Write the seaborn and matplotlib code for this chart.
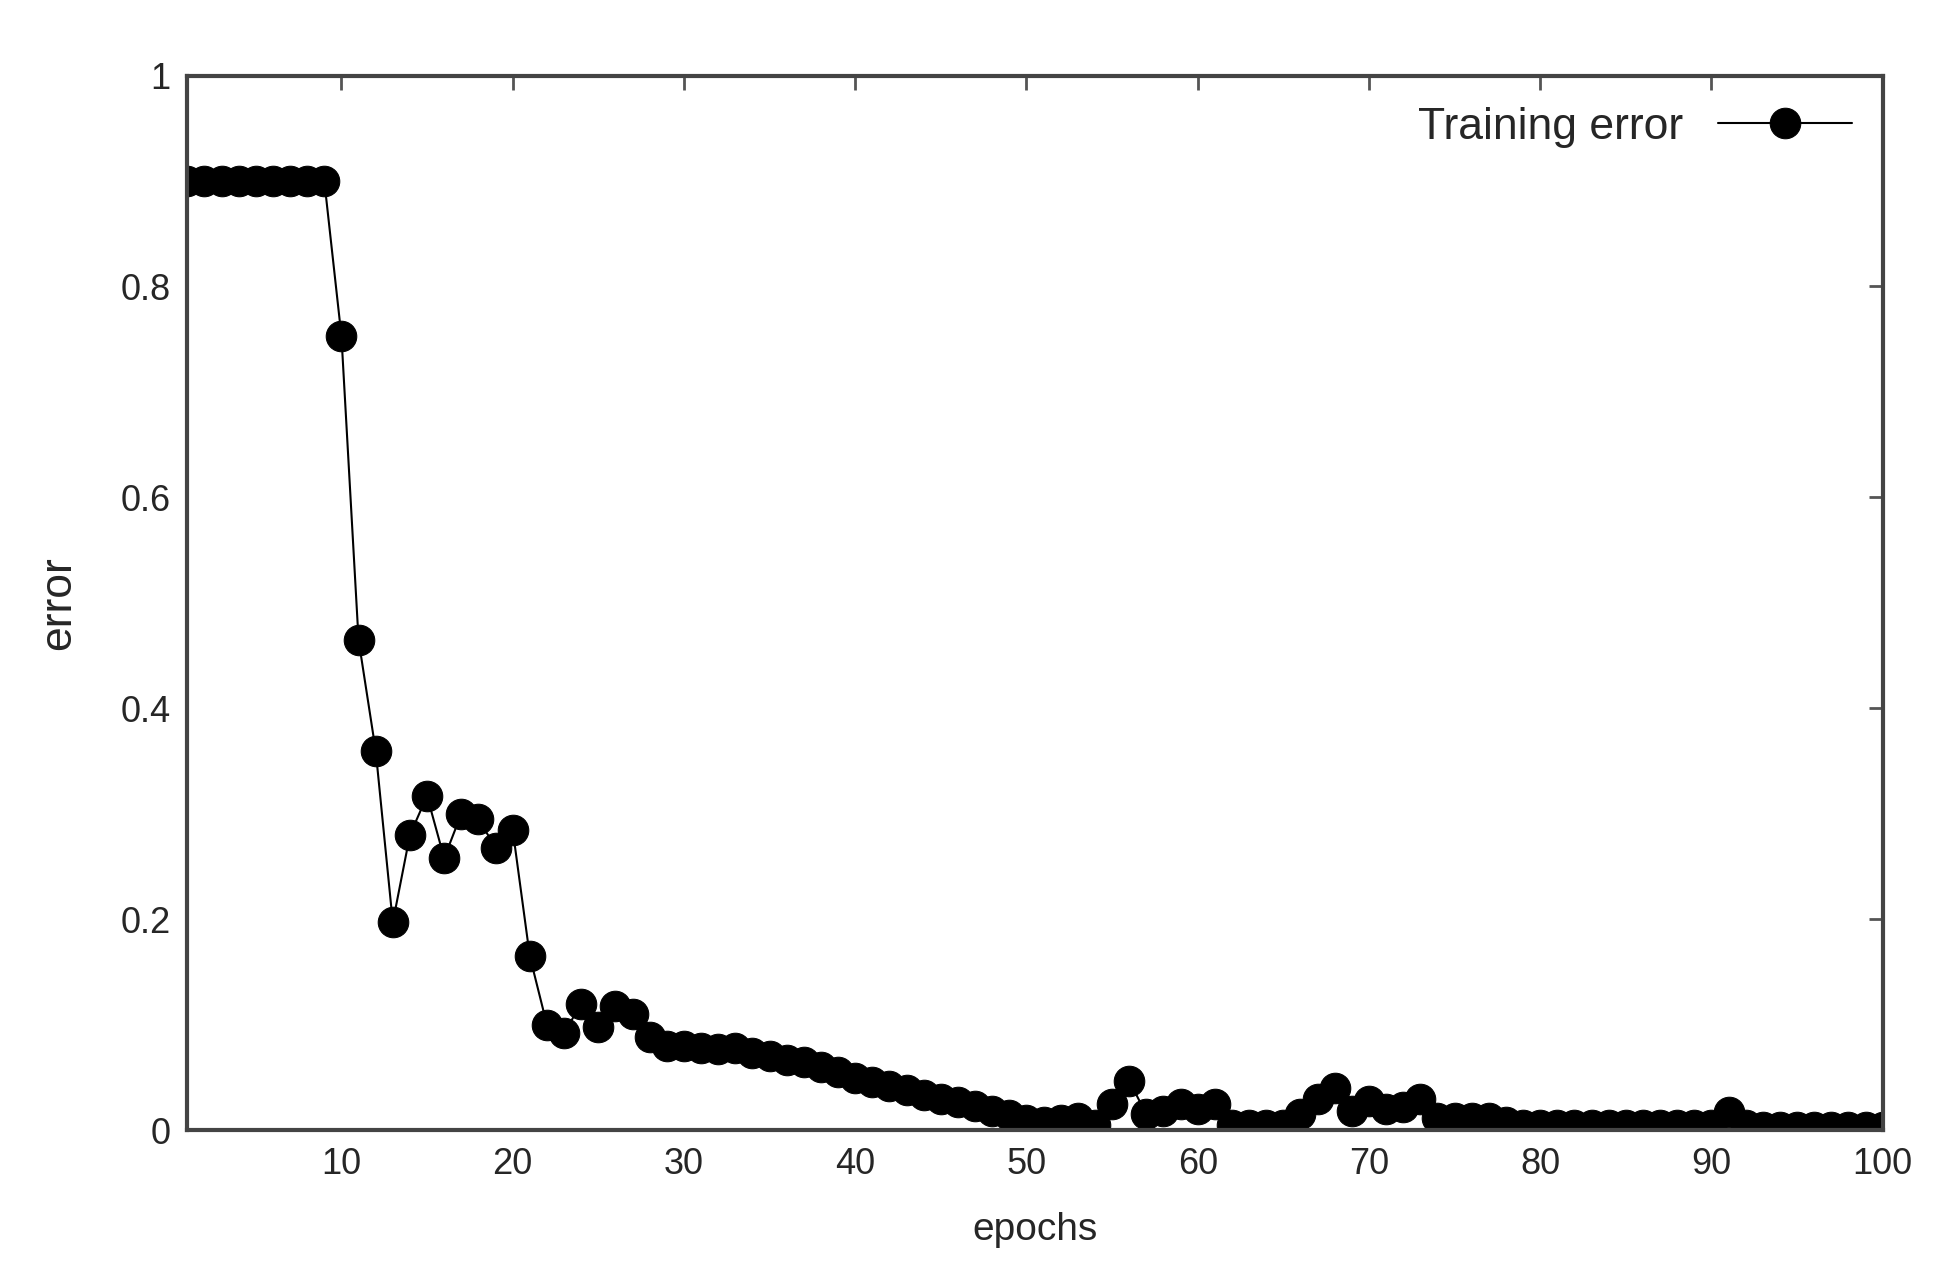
import matplotlib
matplotlib.use('Agg')
import matplotlib.pyplot as plt
import seaborn as sns
import pandas as pd

# training error per epoch
epochs = list(range(1, 101))
error = [0.9] * 9 + [
    0.753, 0.465, 0.36, 0.197, 0.28, 0.317, 0.258, 0.30, 0.295, 0.268,  # 10-19
    0.285, 0.165, 0.10, 0.092, 0.12, 0.098, 0.118, 0.11, 0.088, 0.08,  # 20-29
    0.08, 0.078, 0.077, 0.078, 0.073, 0.07, 0.067, 0.065, 0.06, 0.055,  # 30-39
    0.05, 0.046, 0.042, 0.038, 0.033, 0.03, 0.027, 0.023, 0.018, 0.014,  # 40-49
    0.01, 0.008, 0.01, 0.012, 0.005, 0.025, 0.047, 0.015, 0.018, 0.025,  # 50-59
    0.02, 0.025, 0.005, 0.005, 0.005, 0.005, 0.015, 0.03, 0.04, 0.018,  # 60-69
    0.028, 0.02, 0.022, 0.03, 0.012, 0.012, 0.012, 0.012, 0.008, 0.005,  # 70-79
    0.005, 0.005, 0.005, 0.005, 0.005, 0.005, 0.005, 0.005, 0.005, 0.005,  # 80-89
    0.005, 0.017, 0.005, 0.003, 0.003, 0.003, 0.003, 0.003, 0.003, 0.003,  # 90-99
    0.003,  # 100
]
df = pd.DataFrame({'epochs': epochs, 'error': error})

sns.set_style('white')
plt.rcParams['font.family'] = ['Liberation Sans', 'DejaVu Sans']

fig = plt.figure(figsize=(19.51, 12.8), dpi=100)
ax = fig.add_axes([0.096, 0.117, 0.869, 0.824])

sns.lineplot(data=df, x='epochs', y='error', ax=ax, color='black', linewidth=1.5,
             marker='o', markersize=22, markeredgecolor='black', label='Training error')

ax.set_xlim(1, 100)
ax.set_ylim(0, 1)
ax.set_xticks([10, 20, 30, 40, 50, 60, 70, 80, 90, 100])
ax.set_yticks([0, 0.2, 0.4, 0.6, 0.8, 1])
ax.set_yticklabels(['0', '0.2', '0.4', '0.6', '0.8', '1'])
ax.tick_params(direction='in', length=10, width=2, color='#555555', labelsize=26,
               top=True, right=True, pad=12)
for s in ax.spines.values():
    s.set_linewidth(3)
    s.set_color('#444444')
ax.set_xlabel('epochs', fontsize=28, labelpad=22)
ax.set_ylabel('error', fontsize=32, labelpad=30)

leg = ax.legend(loc='upper right', frameon=False, fontsize=32, markerfirst=False,
                handlelength=3, borderaxespad=0.3)

fig.savefig('out.png', dpi=100)
